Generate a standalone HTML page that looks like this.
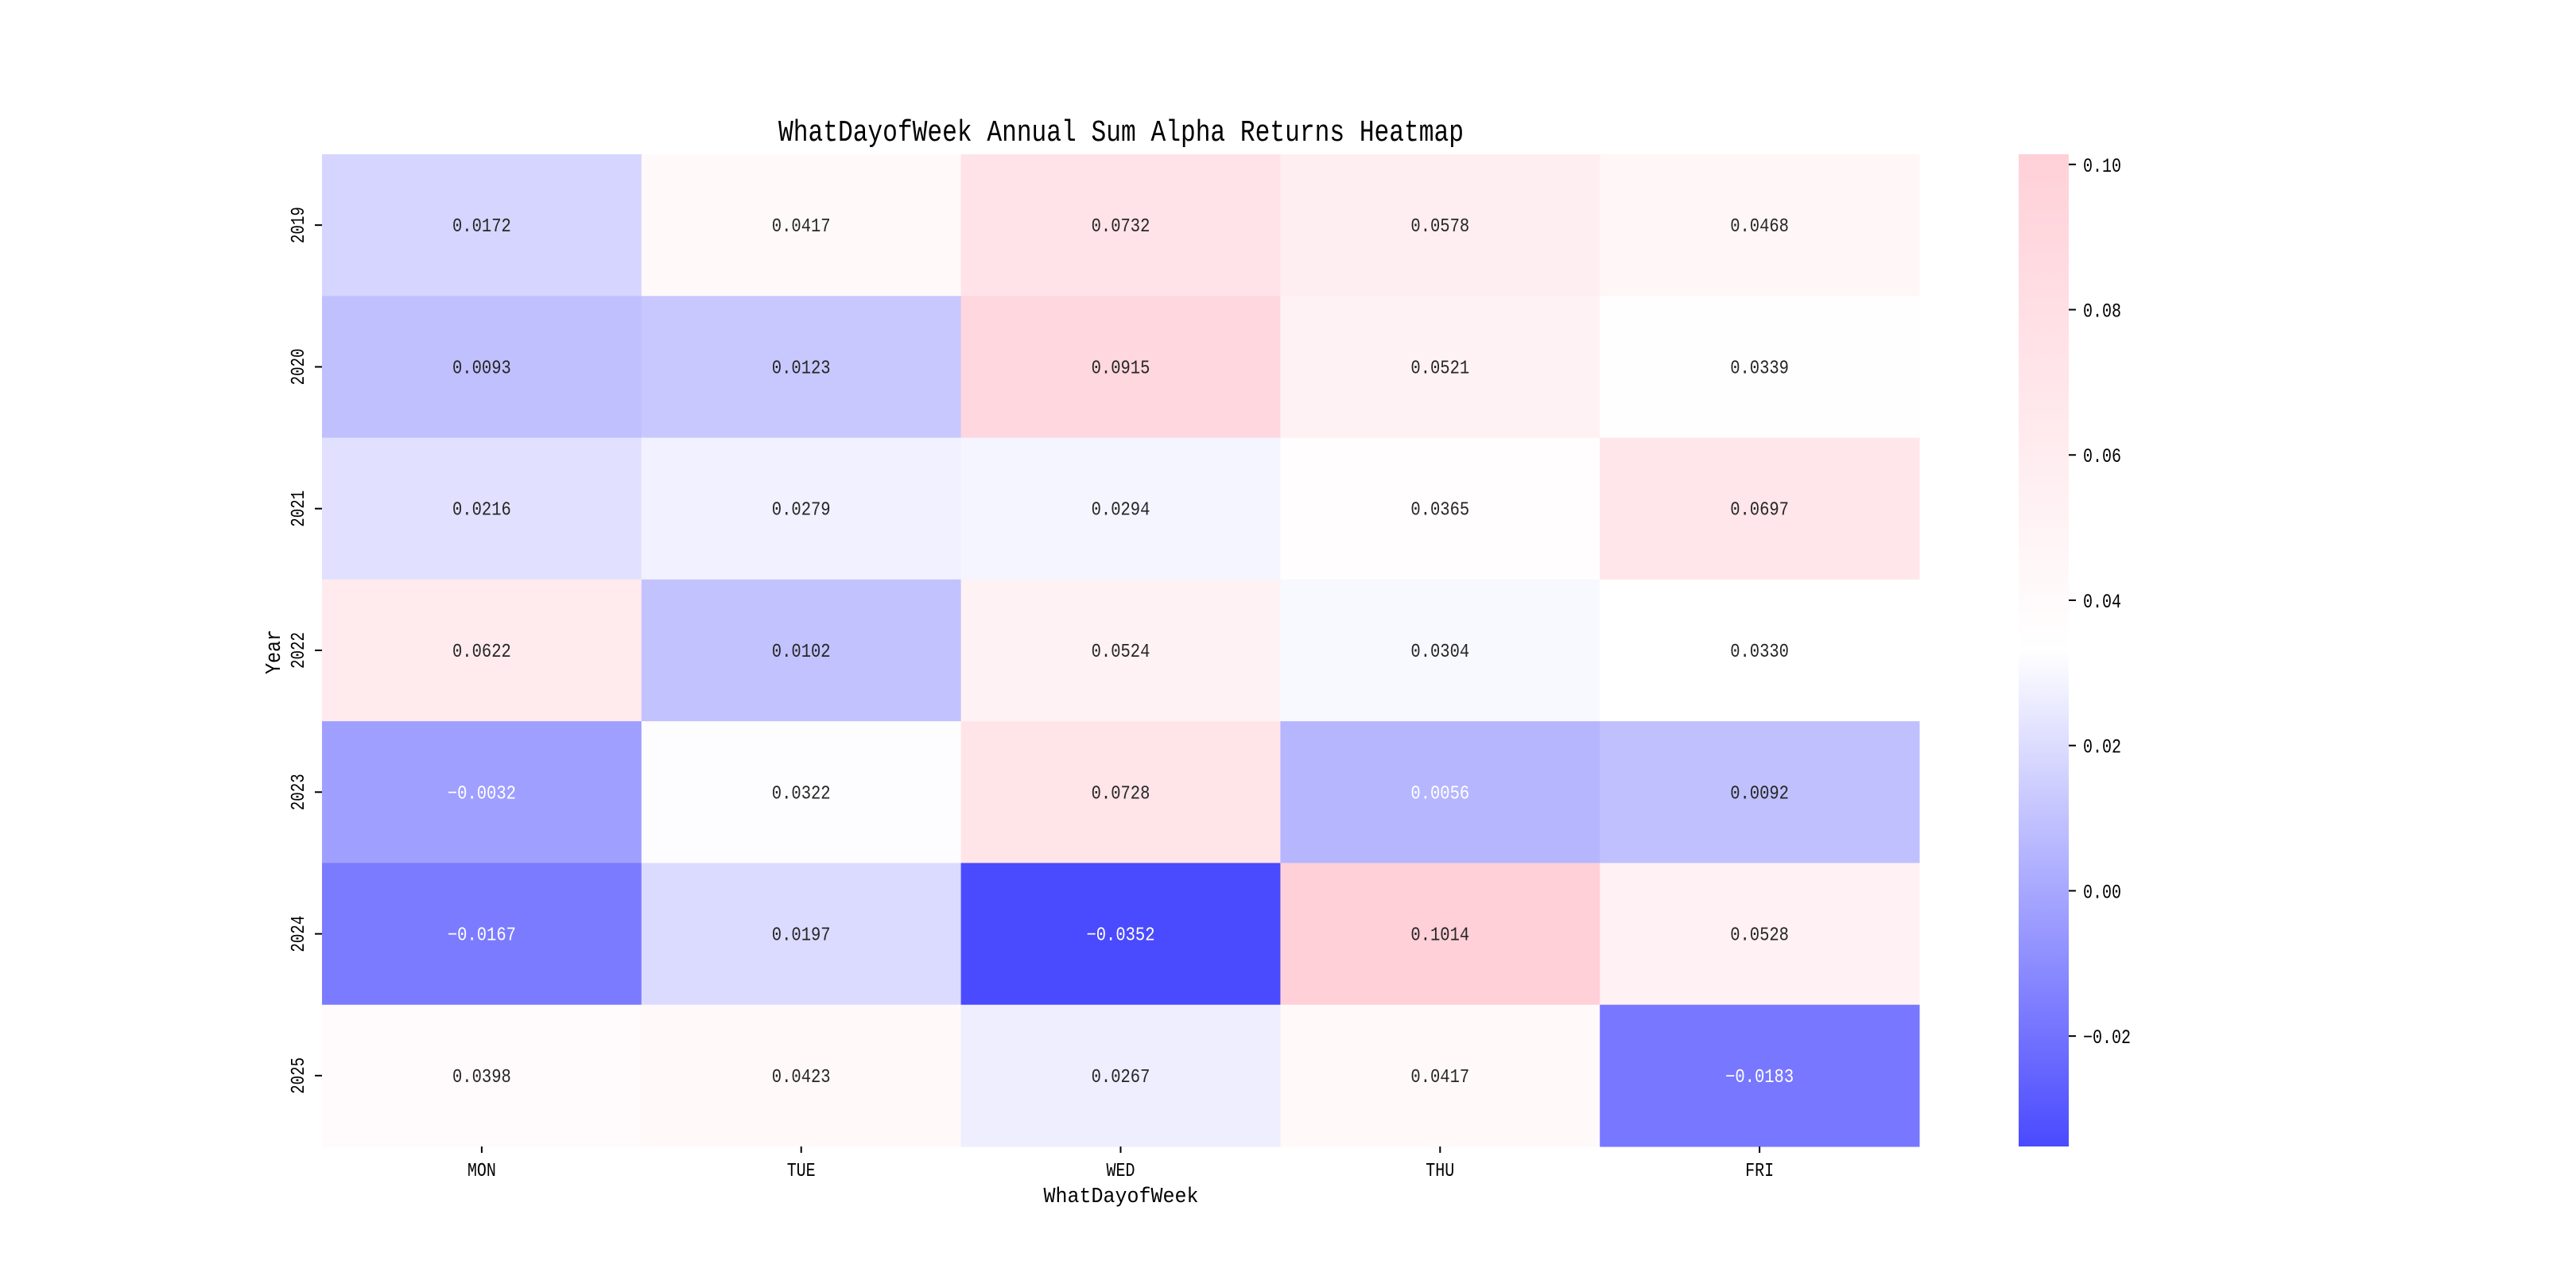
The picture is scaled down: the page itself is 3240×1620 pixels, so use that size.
<!DOCTYPE html>
<html><head><meta charset="utf-8">
<style>
html,body{margin:0;padding:0;background:#fff;}
svg{display:block;}
text{font-family:"Liberation Mono","WenQuanYi Zen Hei",monospace;}
</style></head>
<body>
<svg id="chart" width="3240" height="1620" viewBox="0 0 3240 1620" xmlns="http://www.w3.org/2000/svg">
<rect width="3240" height="1620" fill="#fff"/>
<text x="1410" y="177" font-size="38" text-anchor="middle" textLength="862" lengthAdjust="spacingAndGlyphs">WhatDayofWeek Annual Sum Alpha Returns Heatmap</text>
<g id="cells"></g>
<g id="axes"></g>
<defs><linearGradient id="cbgrad" x1="0" y1="1" x2="0" y2="0"><stop offset="0" stop-color="rgb(74,74,255)"/><stop offset="0.5" stop-color="#ffffff"/><stop offset="1" stop-color="rgb(255,208,216)"/></linearGradient></defs>
<rect x="2539" y="194" width="63" height="1248" fill="url(#cbgrad)"/>
<g id="cbticks"></g>
<text transform="translate(352,820) rotate(-90)" font-size="27" text-anchor="middle" textLength="56" lengthAdjust="spacingAndGlyphs">Year</text>
<text x="1410" y="1512" font-size="27" text-anchor="middle" textLength="195" lengthAdjust="spacingAndGlyphs">WhatDayofWeek</text>
</svg>
<script>
const days = ["MON","TUE","WED","THU","FRI"];
const years = ["2019","2020","2021","2022","2023","2024","2025"];
const mon = [0.0172,0.0093,0.0216,0.0622,-0.0032,-0.0167,0.0398];
const tue = [0.0417,0.0123,0.0279,0.0102,0.0322,0.0197,0.0423];
const wed = [0.0732,0.0915,0.0294,0.0524,0.0728,-0.0352,0.0267];
const thu = [0.0578,0.0521,0.0365,0.0304,0.0056,0.1014,0.0417];
const fri = [0.0468,0.0339,0.0697,0.0330,0.0092,0.0528,-0.0183];
const cbTicks = [-0.02,0.00,0.02,0.04,0.06,0.08,0.10];
const cbTickLabels = ["−0.02","0.00","0.02","0.04","0.06","0.08","0.10"];

const series = [mon,tue,wed,thu,fri];
const L=405,R=2414,T=194,B=1442;
const cw=(R-L)/days.length, rh=(B-T)/years.length;
const all=series.flat();
const vmin=Math.min(...all), vmax=Math.max(...all), vmid=(vmin+vmax)/2;
const xPos=i=>L+i*cw, yPos=j=>T+j*rh;
const cbY=v=>T+(vmax-v)/(vmax-vmin)*(B-T);
function color(v){
  const lo=[74,74,255], hi=[255,208,216], w=[255,255,255];
  let c;
  if(v<=vmid){const t=(v-vmin)/(vmid-vmin);c=lo.map((a,k)=>a+(w[k]-a)*t);}
  else{const t=(v-vmid)/(vmax-vmid);c=w.map((a,k)=>a+(hi[k]-a)*t);}
  return `rgb(${c.map(Math.round).join(',')})`;
}
const NS="http://www.w3.org/2000/svg";
function mk(tag,attrs,parent,txt){const e=document.createElementNS(NS,tag);for(const k in attrs)e.setAttribute(k,attrs[k]);if(txt!==undefined)e.textContent=txt;parent.appendChild(e);return e;}
const cells=document.getElementById('cells'), axes=document.getElementById('axes'), cbt=document.getElementById('cbticks');
series.forEach((s,i)=>{
  s.forEach((v,j)=>{
    const r=mk('rect',{x:xPos(i),y:yPos(j),width:cw+0.5,height:rh+0.5,fill:color(v)},cells);
    
    
    const lab=v.toFixed(4).replace('-','−');
    const t=mk('text',{x:xPos(i)+cw/2,y:yPos(j)+rh/2+8,'font-size':24,'text-anchor':'middle',fill:v<0.007?'#ffffff':'#262626',textLength:lab.length*12.3,lengthAdjust:'spacingAndGlyphs'},cells,lab);
    
    
  });
});
days.forEach((d,i)=>{
  const cx=xPos(i)+cw/2;
  const tk=mk('line',{x1:cx,y1:B,x2:cx,y2:B+8,stroke:'#000','stroke-width':2},axes);
  
  
  const t=mk('text',{x:cx,y:1479,'font-size':24,'text-anchor':'middle',textLength:d.length*12,lengthAdjust:'spacingAndGlyphs'},axes,d);
  
  
});
years.forEach((y,j)=>{
  const cy=yPos(j)+rh/2;
  const tk=mk('line',{x1:L-9,y1:cy,x2:L,y2:cy,stroke:'#000','stroke-width':2},axes);
  
  
  const t=mk('text',{transform:`translate(382,${cy}) rotate(-90)`,'font-size':24,'text-anchor':'middle',textLength:46,lengthAdjust:'spacingAndGlyphs'},axes,y);
  
  
});
cbTicks.forEach((v,k)=>{
  const y=cbY(v);
  const tk=mk('line',{x1:2602,y1:y,x2:2611,y2:y,stroke:'#000','stroke-width':2},cbt);
  
  
  const lab=cbTickLabels[k];
  const t=mk('text',{x:2620,y:y+9,'font-size':25,textLength:lab.length*12,lengthAdjust:'spacingAndGlyphs'},cbt,lab);
  
  
});
</script>
</body></html>
